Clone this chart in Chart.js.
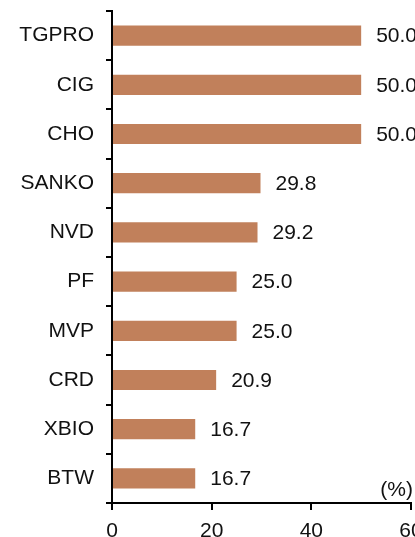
<!DOCTYPE html>
<html>
<head>
<meta charset="utf-8">
<script src="https://cdn.jsdelivr.net/npm/chart.js@4"></script>
<style>
  html, body { margin: 0; padding: 0; background: #fff; }
  #wrap { width: 415px; height: 537px; overflow: hidden; position: relative; }
  canvas { display: block; }
</style>
</head>
<body>
<div id="wrap"><canvas id="c" width="430" height="560" style="width:430px;height:560px"></canvas></div>
<script>
// Données
const companies = ['TGPRO', 'CIG', 'CHO', 'SANKO', 'NVD', 'PF', 'MVP', 'CRD', 'XBIO', 'BTW'];
const shares = [50.0, 50.0, 50.0, 29.8, 29.2, 25.0, 25.0, 20.9, 16.7, 16.7];
const xTicks = [0, 20, 40, 60];
const unitLabel = '(%)';

const FONT = '"Liberation Sans", Arial, sans-serif';
const FONT_SIZE = 21;
const BAR_COLOR = '#C1805B';

// Étiquettes de valeur à droite des barres + unité
const valueLabels = {
  id: 'valueLabels',
  afterDatasetsDraw(chart) {
    const { ctx, chartArea } = chart;
    const meta = chart.getDatasetMeta(0);
    ctx.save();
    ctx.font = FONT_SIZE + 'px ' + FONT;
    ctx.fillStyle = '#111';
    ctx.textAlign = 'left';
    ctx.textBaseline = 'middle';
    meta.data.forEach((bar, i) => {
      ctx.fillText(shares[i].toFixed(1), bar.x + 15, bar.y + 1);
    });
    ctx.textAlign = 'right';
    ctx.fillText(unitLabel, chartArea.right + 2, chartArea.bottom - 13);
    ctx.restore();
  },
};

new Chart(document.getElementById('c'), {
  type: 'bar',
  data: {
    labels: companies,
    datasets: [{
      data: shares,
      backgroundColor: BAR_COLOR,
      borderWidth: 0,
      barPercentage: 0.41,
      categoryPercentage: 1,
    }],
  },
  options: {
    indexAxis: 'y',
    responsive: false,
    animation: false,
    devicePixelRatio: 1,
    layout: { padding: { top: 11, left: 0, right: 19, bottom: 0 } },
    plugins: {
      legend: { display: false },
      tooltip: { enabled: false },
    },
    scales: {
      x: {
        min: 0,
        max: 60,
        afterFit(scale) {
          scale.height = 57;
          scale.paddingLeft = 0;
          scale.paddingRight = 0;
        },
        afterBuildTicks(scale) { scale.ticks = xTicks.map((v) => ({ value: v })); },
        border: { display: true, color: '#000', width: 2 },
        grid: { display: true, drawOnChartArea: false, drawTicks: true, tickLength: 7, color: '#000', lineWidth: 2 },
        ticks: { color: '#111', padding: 9, maxRotation: 0, font: { family: FONT, size: FONT_SIZE } },
      },
      y: {
        afterFit(scale) {
          scale.width = 112;
          scale.paddingTop = 0;
          scale.paddingBottom = 0;
        },
        border: { display: true, color: '#000', width: 2 },
        grid: { display: true, offset: true, drawOnChartArea: false, drawTicks: true, tickLength: 6, color: '#000', lineWidth: 2 },
        ticks: { color: '#111', padding: 12, font: { family: FONT, size: FONT_SIZE } },
      },
    },
  },
  plugins: [valueLabels],
});
</script>
</body>
</html>
